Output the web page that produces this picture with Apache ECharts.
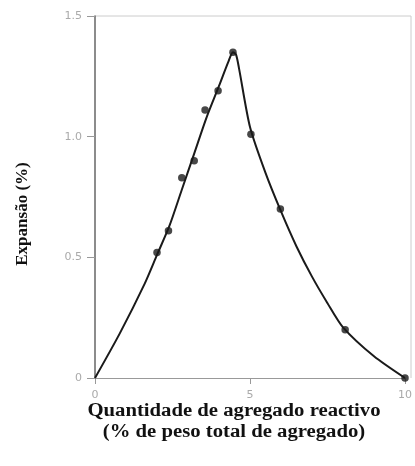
<!DOCTYPE html>
<html>
<head>
<meta charset="utf-8">
<script src="https://cdn.jsdelivr.net/npm/echarts@6/dist/echarts.min.js"></script>
<style>
  html, body { margin: 0; padding: 0; background: #fff; }
  #chart { width: 415px; height: 466px; }
</style>
</head>
<body>
<div id="chart"></div>
<script>
// Measured points: reactive aggregate content (%) vs expansion (%)
const pointX = [2.0, 2.37, 2.8, 3.2, 3.55, 3.97, 4.45, 5.03, 5.98, 8.07, 10.0];
const pointY = [0.52, 0.61, 0.83, 0.90, 1.11, 1.19, 1.35, 1.01, 0.70, 0.20, 0.0];

// Fitted curve through the measurements
const curveX = [0, 0.8, 1.6, 2.0, 2.4, 2.8, 3.2, 3.6, 4.0, 4.3, 4.45, 4.55, 4.65, 5.0, 5.5, 6.0, 6.5, 7.0, 7.5, 8.0, 9.0, 10.0];
const curveY = [0, 0.185, 0.39, 0.51, 0.63, 0.78, 0.93, 1.08, 1.21, 1.31, 1.35, 1.34, 1.28, 1.04, 0.85, 0.69, 0.545, 0.42, 0.31, 0.21, 0.09, 0];

const yTicks = { 0: '0', 0.5: '0.5', 1: '1.0', 1.5: '1.5' };

const chart = echarts.init(document.getElementById('chart'));
chart.setOption({
  animation: false,
  grid: { left: 95, right: 4, top: 16, bottom: 88 },
  xAxis: {
    type: 'value', min: 0, max: 10, interval: 5,
    axisLine: { lineStyle: { color: '#999', width: 1 } },
    axisTick: { show: true, length: 6, lineStyle: { color: '#999' } },
    axisLabel: { color: '#aaa', fontSize: 11, fontFamily: 'DejaVu Sans', margin: 12 },
    splitLine: { show: false }
  },
  yAxis: {
    type: 'value', min: 0, max: 1.5, interval: 0.5,
    axisLine: { show: true, lineStyle: { color: '#666', width: 1.5 } },
    axisTick: { show: true, length: 8, lineStyle: { color: '#999' } },
    axisLabel: { color: '#aaa', fontSize: 11, fontFamily: 'DejaVu Sans', margin: 13,
      formatter: v => yTicks[v] !== undefined ? yTicks[v] : '' },
    splitLine: { show: false }
  },
  graphic: [
    // frame top and right edges
    { type: 'line', shape: { x1: 95, y1: 16, x2: 411, y2: 16 }, style: { stroke: '#ccc', lineWidth: 1 } },
    { type: 'line', shape: { x1: 411, y1: 16, x2: 411, y2: 378 }, style: { stroke: '#ccc', lineWidth: 1 } },
    { type: 'text', x: 23, y: 214, rotation: Math.PI / 2,
      style: { text: 'Expansão (%)', font: 'bold 17px "Liberation Serif"', fill: '#111',
        textAlign: 'center', textVerticalAlign: 'middle' } },
    { type: 'text', x: 234, y: 411, scaleX: 1.15,
      style: { text: 'Quantidade de agregado reactivo', font: 'bold 18px "Liberation Serif"', fill: '#111',
        textAlign: 'center', textVerticalAlign: 'middle' } },
    { type: 'text', x: 234, y: 432, scaleX: 1.15,
      style: { text: '(% de peso total de agregado)', font: 'bold 18px "Liberation Serif"', fill: '#111',
        textAlign: 'center', textVerticalAlign: 'middle' } }
  ],
  series: [
    {
      type: 'line', smooth: 0.25, showSymbol: false,
      data: curveX.map((x, i) => [x, curveY[i]]),
      lineStyle: { color: '#1a1a1a', width: 2 },
      z: 2
    },
    {
      type: 'scatter', symbol: 'circle', symbolSize: 7.5,
      data: pointX.map((x, i) => [x, pointY[i]]),
      itemStyle: { color: '#1a1a1a' },
      z: 3
    }
  ]
});
</script>
</body>
</html>
